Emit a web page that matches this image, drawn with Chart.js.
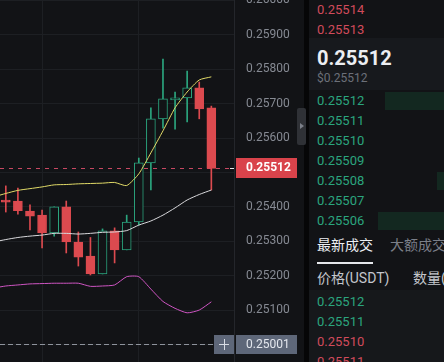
<!DOCTYPE html>
<html>
<head>
<meta charset="utf-8">
<script src="https://cdn.jsdelivr.net/npm/chart.js@4.4.1/dist/chart.umd.min.js"></script>
<style>
  html, body { margin: 0; padding: 0; width: 444px; height: 362px; overflow: hidden; background: #121316; font-family: Roboto, "Noto Sans CJK SC", sans-serif; }
  #wrap { position: absolute; left: 0; top: 0; width: 304px; height: 362px; }
  #split { position: absolute; left: 304px; top: 0; width: 5px; height: 362px; background: #060607; }
  #handle { position: absolute; left: 297px; top: 108px; width: 9px; height: 37px; background: #2f3136; border-radius: 2px; }
  #handle:after { content: ''; position: absolute; left: 3px; top: 15px; border-left: 4px solid #7c8089; border-top: 3.5px solid transparent; border-bottom: 3.5px solid transparent; }
  #book { position: absolute; left: 309px; top: 0; width: 135px; height: 362px; background: #121316; overflow: hidden; }
  .row { position: absolute; left: 8px; height: 20px; line-height: 20px; font-size: 13px; white-space: nowrap; }
  .depth { position: absolute; right: 0; height: 18px; background: #132820; }
  .mid { position: absolute; left: 0; top: 38px; width: 135px; height: 52px; background: #17191d; }
  .big { position: absolute; left: 8px; top: 45px; font-size: 20px; font-weight: bold; color: #eceef2; line-height: 26px; }
  .usd { position: absolute; left: 8px; top: 70px; font-size: 12px; color: #6c7079; line-height: 16px; }
  .tab { position: absolute; top: 235px; font-size: 14px; line-height: 20px; white-space: nowrap; }
  .uline { position: absolute; left: 8px; top: 262px; width: 56px; height: 2px; background: #e6e8ec; }
  .head { position: absolute; top: 268px; font-size: 14px; line-height: 20px; color: #c3c6cc; white-space: nowrap; }
  .trades { position: absolute; left: 0; top: 290px; width: 135px; height: 72px; background: #16181b; }
</style>
</head>
<body>
<div id="wrap"><canvas id="kline"></canvas></div>
<div id="split"></div>
<div id="handle"></div>
<div id="book"></div>
<script>
// ── candles (one per slot) ──
const slots  = [0, 1, 2, 3, 4, 5, 6, 7, 8, 9, 10, 11, 12, 13, 14, 15, 16, 17];
const opens  = [0.25420, 0.25417, 0.25388, 0.25376, 0.25324, 0.25400, 0.25298, 0.25257, 0.25205, 0.25330, 0.25275, 0.25356, 0.25528, 0.25656, 0.25711, 0.25717, 0.25746, 0.25688];
const highs  = [0.25461, 0.25455, 0.25406, 0.25391, 0.25400, 0.25417, 0.25327, 0.25311, 0.25336, 0.25339, 0.25376, 0.25542, 0.25688, 0.25830, 0.25734, 0.25795, 0.25763, 0.25693];
const lows   = [0.25385, 0.25379, 0.25333, 0.25281, 0.25315, 0.25266, 0.25228, 0.25202, 0.25205, 0.25237, 0.25275, 0.25347, 0.25449, 0.25629, 0.25626, 0.25647, 0.25656, 0.25449];
const closes = [0.25414, 0.25389, 0.25373, 0.25324, 0.25400, 0.25298, 0.25254, 0.25205, 0.25330, 0.25275, 0.25356, 0.25528, 0.25656, 0.25714, 0.25717, 0.25746, 0.25685, 0.25512];

// ── BOLL bands (starts one slot left of the view) ──
const bollSlots = [-1, 0, 1, 2, 3, 4, 5, 6, 7, 8, 9, 10, 11, 12, 13, 14, 15, 16, 17];
const bollUp  = [0.25429, 0.25439, 0.25448, 0.25453, 0.25458, 0.25464, 0.25465, 0.25467, 0.25468, 0.25469, 0.25471, 0.25462, 0.25496, 0.25557, 0.25621, 0.25688, 0.25734, 0.25769, 0.25778];
const bollMid = [0.25298, 0.25305, 0.25311, 0.25315, 0.25318, 0.25323, 0.25323, 0.25321, 0.25323, 0.25326, 0.25327, 0.25331, 0.25347, 0.25359, 0.25376, 0.25397, 0.25420, 0.25436, 0.25449];
const bollLow = [0.25164, 0.25170, 0.25173, 0.25176, 0.25177, 0.25178, 0.25178, 0.25178, 0.25169, 0.25170, 0.25173, 0.25197, 0.25197, 0.25161, 0.25125, 0.25105, 0.25092, 0.25100, 0.25124];

const gridSlots = [3, 11];
const priceStep = 0.001;
const lastPrice = 0.25512;
const crossPrice = 0.25001;

// ── order book ──
const asks = ['0.25514', '0.25513'];
const bids = ['0.25512', '0.25511', '0.25510', '0.25509', '0.25508', '0.25507', '0.25506'];
const bidDepth = [0.45, 0, 0, 0, 0.05, 0, 0.5];
const trades = ['0.25512', '0.25511', '0.25510', '0.25511'];
const tradeSide = ['buy', 'buy', 'sell', 'sell'];

const GREEN = '#2ba57e';
const RED = '#dc4a4f';
const BG = '#121316';

const up = closes.map((c, i) => c >= opens[i]);

const overlay = {
  id: 'overlay',
  beforeDatasetsDraw(chart) {
    const { ctx, chartArea: a, scales: { y } } = chart;
    const py = Math.round(y.getPixelForValue(lastPrice)) + 0.5;
    const cy = Math.round(y.getPixelForValue(crossPrice)) + 0.5;
    ctx.save();
    ctx.lineWidth = 1;
    ctx.setLineDash([4, 5]);
    ctx.strokeStyle = '#c84862';
    ctx.beginPath(); ctx.moveTo(a.left, py); ctx.lineTo(a.right, py); ctx.stroke();
    ctx.setLineDash([5, 3]);
    ctx.strokeStyle = '#8e939c';
    ctx.beginPath(); ctx.moveTo(a.left, cy); ctx.lineTo(a.right - 20, cy); ctx.stroke();
    ctx.restore();
  },
  afterDraw(chart) {
    const { ctx, chartArea: a, scales: { y } } = chart;
    const py = Math.round(y.getPixelForValue(lastPrice));
    const cy = Math.round(y.getPixelForValue(crossPrice));
    ctx.save();
    ctx.textBaseline = 'middle';
    // last price tag
    ctx.fillStyle = '#d9434b';
    ctx.fillRect(a.right + 2, py - 10, 61, 20);
    ctx.strokeStyle = '#e8e8e8';
    ctx.beginPath(); ctx.moveTo(a.right - 4, py + 0.5); ctx.lineTo(a.right, py + 0.5); ctx.stroke();
    ctx.fillStyle = '#ffffff';
    ctx.font = 'bold 12px Roboto';
    ctx.fillText(lastPrice.toFixed(5), a.right + 12, py);
    // crosshair tag + plus button
    ctx.fillStyle = '#5e6779';
    ctx.fillRect(a.right + 2, cy - 9, 61, 19);
    ctx.fillRect(a.right - 20, cy - 9, 20, 19);
    ctx.fillStyle = '#e4e7ee';
    ctx.font = '12px Roboto';
    ctx.fillText(crossPrice.toFixed(5), a.right + 12, cy + 1);
    ctx.strokeStyle = '#d8dce4';
    ctx.beginPath();
    ctx.moveTo(a.right - 15, cy + 0.5); ctx.lineTo(a.right - 5, cy + 0.5);
    ctx.moveTo(a.right - 10 + 0.5, cy - 5); ctx.lineTo(a.right - 10 + 0.5, cy + 6);
    ctx.stroke();
    ctx.restore();
  }
};

new Chart(document.getElementById('kline'), {
  type: 'bar',
  data: {
    datasets: [
      { type: 'line', data: bollSlots.map((x, i) => ({ x, y: bollUp[i] })), borderColor: '#e2db68', borderWidth: 1, pointRadius: 0, tension: 0.2, order: 0 },
      { type: 'line', data: bollSlots.map((x, i) => ({ x, y: bollMid[i] })), borderColor: '#d9d9dc', borderWidth: 1, pointRadius: 0, tension: 0.2, order: 0 },
      { type: 'line', data: bollSlots.map((x, i) => ({ x, y: bollLow[i] })), borderColor: '#cf55c3', borderWidth: 1, pointRadius: 0, tension: 0.2, order: 0 },
      {
        data: slots.map((x, i) => ({ x, y: [opens[i], closes[i]] })),
        backgroundColor: up.map(u => u ? BG : RED),
        borderColor: up.map(u => u ? GREEN : RED),
        borderWidth: 1,
        borderSkipped: false,
        barThickness: 9,
        grouped: false,
        order: 1
      },
      {
        data: slots.map((x, i) => ({ x, y: [lows[i], highs[i]] })),
        backgroundColor: up.map(u => u ? GREEN : RED),
        barThickness: 1,
        grouped: false,
        order: 2
      }
    ]
  },
  options: {
    responsive: true,
    maintainAspectRatio: false,
    animation: false,
    layout: { padding: 0 },
    plugins: { legend: { display: false }, tooltip: { enabled: false } },
    scales: {
      x: {
        type: 'linear',
        min: -0.48,
        max: 18.875,
        offset: false,
        ticks: { display: false },
        grid: { color: '#1d1f23', offset: false, drawTicks: false },
        border: { display: false },
        afterBuildTicks: s => { s.ticks = gridSlots.map(v => ({ value: v })); },
        afterFit: s => { s.height = 0; s.paddingLeft = 0; s.paddingRight = 0; }
      },
      y: {
        position: 'right',
        min: 0.24949,
        max: 0.2600145,
        ticks: {
          stepSize: priceStep,
          includeBounds: false,
          maxTicksLimit: 20,
          padding: 12,
          color: '#868a93',
          font: { family: 'Roboto', size: 12 },
          callback: v => v.toFixed(5)
        },
        grid: { color: '#1d1f23', drawTicks: false },
        border: { color: '#24262b' },
        afterFit: s => { s.width = 70; s.paddingTop = 0; s.paddingBottom = 0; }
      }
    }
  },
  plugins: [overlay]
});

// ── right side panel ──
function buildBook() {
  const book = document.getElementById('book');
  let html = '';
  asks.forEach((p, i) => {
    html += `<div class="row" style="top:${i * 19.5}px;color:#d14b5b">${p}</div>`;
  });
  html += `<div class="mid"></div>
    <div class="big">${lastPrice.toFixed(5)}</div>
    <div class="usd">$${lastPrice.toFixed(5)}</div>`;
  bids.forEach((p, i) => {
    if (bidDepth[i] > 0) {
      html += `<div class="depth" style="top:${92 + i * 20}px;width:${Math.round(bidDepth[i] * 132)}px"></div>`;
    }
    html += `<div class="row" style="top:${91 + i * 20}px;color:${GREEN}">${p}</div>`;
  });
  html += `<div class="tab" style="left:8px;color:#eceef2">最新成交</div>
    <div class="tab" style="left:81px;color:#7b7f88">大额成交</div>
    <div class="uline"></div>
    <div class="head" style="left:8px">价格(USDT)</div>
    <div class="head" style="left:104px">数量(USDT)</div>
    <div class="trades"></div>`;
  trades.forEach((p, i) => {
    const c = tradeSide[i] === 'buy' ? GREEN : '#d14b5b';
    html += `<div class="row" style="top:${292 + i * 20}px;color:${c}">${p}</div>`;
  });
  book.innerHTML = html;
}

buildBook();
</script>
</body>
</html>
